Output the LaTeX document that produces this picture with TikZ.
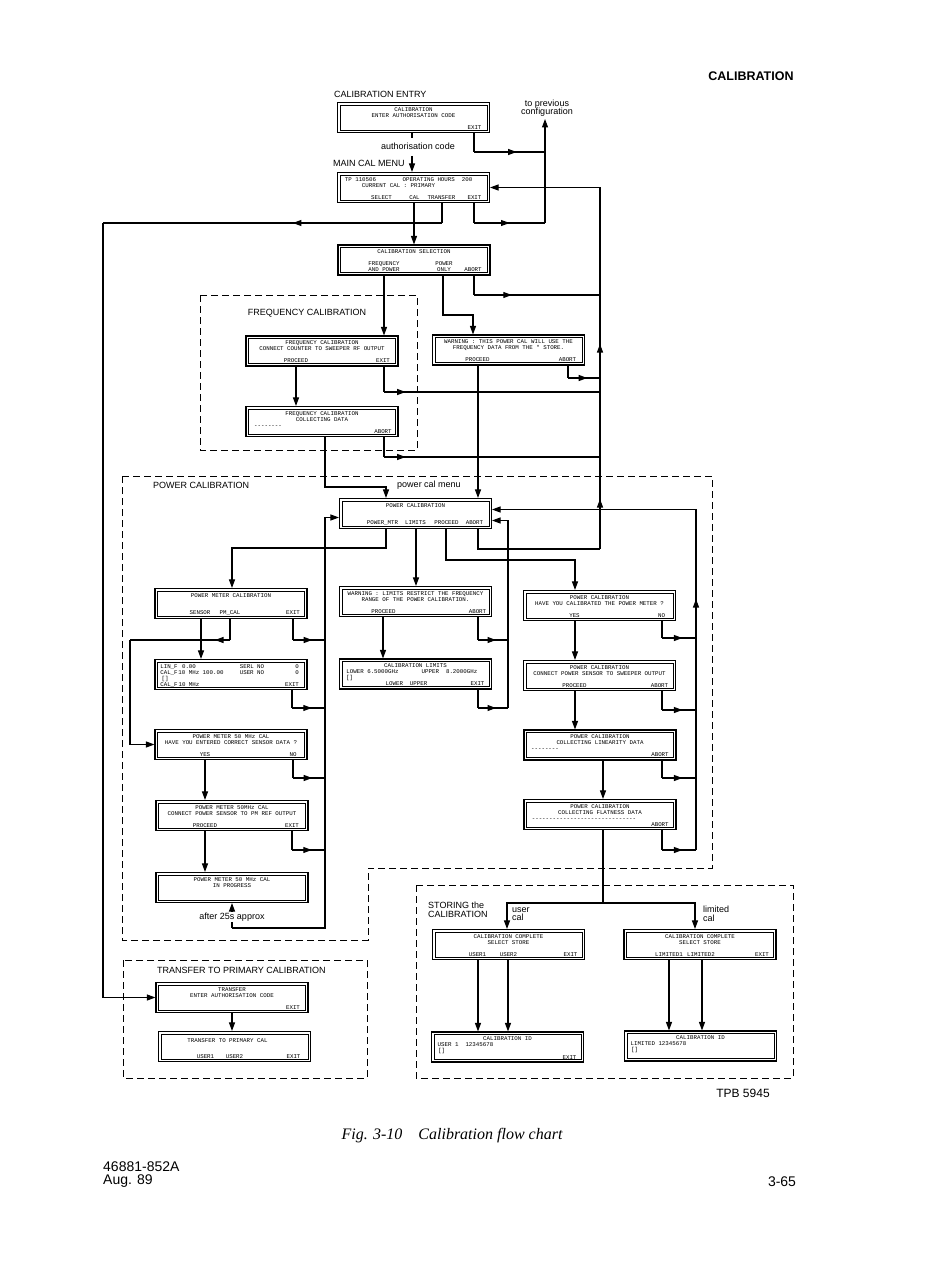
\documentclass[tikz,border=0pt]{standalone}
\usepackage{fontspec}
\setmainfont{Liberation Sans}
\newfontfamily\lcdfont{Liberation Mono}
\newfontfamily\capfont{Liberation Serif}
\usetikzlibrary{arrows.meta,decorations.markings}
\newcommand{\pc}[2]{\makebox[0pt][c]{\hspace{#1pt}\hspace{#1pt}#2}}
\newcommand{\scr}[2]{\parbox[c][24pt][t]{144pt}{\lcdfont\fontsize{5.8}{6.0}\selectfont\centering\vspace*{1.8pt}#1\par\vfill #2}}
\newcommand{\dsh}{-{}-{}-{}-{}-{}-{}-{}-}
\newcommand{\longdsh}{-{}-{}-{}-{}-{}-{}-{}-{}-{}-{}-{}-{}-{}-{}-{}-{}-{}-{}-{}-{}-{}-{}-{}-{}-{}-{}-{}-{}-{}-}
\begin{document}
\begin{tikzpicture}[x=1pt,y=-1pt,
  ln/.style={line width=1.05pt},
  arr/.style={ln,-{Triangle[length=8.5pt,width=6pt]}},
  marr/.style={ln,postaction={decorate},decoration={markings,mark=at position #1 with {\arrow{Triangle[length=8.5pt,width=6pt]}}}},
  marr/.default=0.5,
  lcd/.style={draw,line width=1.1pt,minimum width=152pt,minimum height=30pt,inner sep=0pt},
  inner/.style={draw,line width=0.6pt},
  dbox/.style={draw,line width=1pt,dash pattern=on 7pt off 4pt},
  lbl/.style={font=\fontsize{9}{8.5}\selectfont,inner sep=0pt}]
\useasboundingbox (0,0) rectangle (924,1268);

% headings and labels
\node[font=\bfseries\fontsize{12.5}{13}\selectfont,inner sep=0pt] (hdr) at (751,76) {CALIBRATION};
\node[lbl,anchor=west] (lentry) at (334,94) {CALIBRATION ENTRY};
\node[lbl,align=center] (lprev) at (547,108) {to previous\\configuration};
\node[lbl] (lauth) at (418,146) {authorisation code};
\node[lbl,anchor=west] (lmain) at (333,163) {MAIN CAL MENU};
\node[lbl] (lfreq) at (307,313) {FREQUENCY CALIBRATION};
\node[lbl,anchor=west] (lpow) at (153,485) {POWER CALIBRATION};
\node[lbl] (lpcm) at (429,485) {power cal menu};
\node[lbl,anchor=west] (ltr) at (157,970) {TRANSFER TO PRIMARY CALIBRATION};
\node[lbl,anchor=west,align=left] (lstore) at (428,910) {STORING the\\CALIBRATION};
\node[lbl,anchor=west,align=left] (luser) at (512,914) {user\\cal};
\node[lbl,anchor=west,align=left] (llim) at (703,914) {limited\\cal};
\node[font=\fontsize{12}{12}\selectfont,inner sep=0pt] (ltpb) at (743,1093) {TPB 5945};
\node[font=\capfont\itshape\fontsize{16}{16}\selectfont,inner sep=0pt] (lfig) at (452,1136) {Fig. 3-10\quad Calibration flow chart};
\node[font=\fontsize{14}{13}\selectfont,inner sep=0pt,anchor=west,align=left] (lpn) at (103,1175) {46881-852A\\Aug. 89};
\node[font=\fontsize{14}{14}\selectfont,inner sep=0pt] (lpg) at (782,1182) {3-65};

% dashed groups
\draw[dbox] (200,295) rectangle (417,450);
\draw[dbox] (122,476) -- (712,476) -- (712,868) -- (368,868) -- (368,940) -- (122,940) -- cycle;
\draw[dbox] (416,885) rectangle (793,1078);
\draw[dbox] (123,960) rectangle (367,1078);

% screens
\node[lcd] (E) at (413.5,117.5) {\scr{CALIBRATION\\ENTER AUTHORISATION CODE}{\pc{61}{EXIT}}};
\node[lcd] (M) at (413.5,187.5) {\scr{\pc{-53}{TP 110506}\pc{24}{OPERATING HOURS~~200}\\\pc{-15}{CURRENT CAL : PRIMARY}}{\pc{-32}{SELECT}\pc{1}{CAL}\pc{28}{TRANSFER}\pc{61}{EXIT}}};
\node[lcd] (C) at (414,260) {\scr{CALIBRATION SELECTION}{\pc{-30}{FREQUENCY}\pc{30}{POWER}\\\pc{-30}{AND POWER}\pc{30}{ONLY}\pc{59}{ABORT}}};
\node[lcd] (F1) at (322,351) {\scr{FREQUENCY CALIBRATION\\CONNECT COUNTER TO SWEEPER RF OUTPUT}{\pc{-26}{PROCEED}\pc{61}{EXIT}}};
\node[lcd] (F2) at (322,421.5) {\scr{FREQUENCY CALIBRATION\\COLLECTING DATA}{\pc{-54}{\dsh}\\\pc{61}{ABORT}}};
\node[lcd] (W) at (508.5,350) {\scr{WARNING : THIS POWER CAL WILL USE THE\\FREQUENCY DATA FROM THE * STORE.}{\pc{-31}{PROCEED}\pc{59}{ABORT}}};
\node[lcd] (P) at (415.5,513.5) {\scr{POWER CALIBRATION}{\pc{-33}{POWER\_MTR}\pc{0}{LIMITS}\pc{31}{PROCEED}\pc{59}{ABORT}}};
\node[lcd] (L1) at (231,603.5) {\scr{POWER METER CALIBRATION}{\pc{-31}{SENSOR}\pc{-1}{PM\_CAL}\pc{62}{EXIT}}};
\node[lcd] (L2) at (231,674.5) {\scr{\pc{-62}{LIN\_F}\pc{-42}{0.00}\pc{21}{SERL NO}\pc{66}{0}\\\pc{-62}{CAL\_F}\pc{-30}{10 MHz 100.00}\pc{21}{USER NO}\pc{66}{0}\\\pc{-66}{[]}}{\pc{-62}{CAL\_F}\pc{-42}{10 MHz}\pc{61}{EXIT}}};
\node[lcd] (L3) at (231,744.5) {\scr{POWER METER 50 MHz CAL\\HAVE YOU ENTERED CORRECT SENSOR DATA ?}{\pc{-26}{YES}\pc{62}{NO}}};
\node[lcd] (L4) at (232,815.5) {\scr{POWER METER 50MHz CAL\\CONNECT POWER SENSOR TO PM REF OUTPUT}{\pc{-27}{PROCEED}\pc{60}{EXIT}}};
\node[lcd] (L5) at (232,887.5) {\scr{POWER METER 50 MHz CAL\\IN PROGRESS}{}};
\node[lcd] (MW) at (415.5,601.5) {\scr{WARNING : LIMITS RESTRICT THE FREQUENCY\\RANGE OF THE POWER CALIBRATION.}{\pc{-32}{PROCEED}\pc{62}{ABORT}}};
\node[lcd] (CL) at (415.5,674) {\scr{CALIBRATION LIMITS\\\pc{-43}{LOWER~6.5000GHz}\pc{34}{UPPER~~8.2000GHz}\\\pc{-66}{[]}}{\pc{-9}{LOWER~~UPPER}\pc{62}{EXIT}}};
\node[lcd] (R1) at (599.5,605.5) {\scr{POWER CALIBRATION\\HAVE YOU CALIBRATED THE POWER METER ?}{\pc{-25}{YES}\pc{62}{NO}}};
\node[lcd] (R2) at (599.5,675.5) {\scr{POWER CALIBRATION\\CONNECT POWER SENSOR TO SWEEPER OUTPUT}{\pc{-25}{PROCEED}\pc{60}{ABORT}}};
\node[lcd] (R3) at (600,745) {\scr{POWER CALIBRATION\\COLLECTING LINEARITY DATA}{\pc{-55}{\dsh}\\\pc{60}{ABORT}}};
\node[lcd] (R4) at (600,814.5) {\scr{POWER CALIBRATION\\COLLECTING FLATNESS DATA}{\pc{-16}{\longdsh}\\\pc{60}{ABORT}}};
\node[lcd] (US) at (508.5,944.5) {\scr{CALIBRATION COMPLETE\\SELECT STORE}{\pc{-31}{USER1}\pc{0}{USER2}\pc{62}{EXIT}}};
\node[lcd] (LS) at (700,944.5) {\scr{CALIBRATION COMPLETE\\SELECT STORE}{\pc{-31}{LIMITED1}\pc{1}{LIMITED2}\pc{62}{EXIT}}};
\node[lcd] (UID) at (507.5,1047) {\scr{CALIBRATION ID\\\pc{-42}{USER 1~~12345678}\\\pc{-66}{[]}}{\pc{62}{EXIT}}};
\node[lcd] (LID) at (700.5,1046) {\scr{CALIBRATION ID\\\pc{-42}{LIMITED 12345678}\\\pc{-66}{[]}}{}};
\node[lcd] (T1) at (232,997.5) {\scr{TRANSFER\\ENTER AUTHORISATION CODE}{\pc{61}{EXIT}}};
\node[lcd] (T2) at (234.5,1046.5) {\scr{\mbox{}\\\pc{-7}{TRANSFER TO PRIMARY CAL}}{\pc{-29}{USER1}\pc{0}{USER2}\pc{59}{EXIT}}};

% inner frames of the screens
\foreach \n in {E,M,C,F1,F2,W,P,L1,L2,L3,L4,L5,MW,CL,R1,R2,R3,R4,US,LS,UID,LID,T1,T2}
  \draw[inner] ([shift={(3.2,3.2)}]\n.north west) rectangle ([shift={(-3.2,-3.2)}]\n.south east);

% top connectors
\draw[ln] (474,0 |- E.south) -- (474,152);
\draw[marr=0.6] (474,152) -- (545,152);
\draw[arr] (545,223) -- (545,119);
\draw[ln] (412,0 |- E.south) -- ++(0,5);
\draw[arr] (412,156) -- (412,0 |- M.north);
\draw[arr] (414,0 |- M.south) -- (414,0 |- C.north);
\draw[ln] (442,0 |- M.south) -- (442,223);
\draw[marr=0.44] (442,223) -- (103,223);
\draw[arr] (103,223) |- (T1.west);
\draw[ln] (474,0 |- M.south) -- (474,223);
\draw[marr=0.5] (474,223) -- (545,223);
\draw[arr] (600,549) |- (M.east);
\draw[arr] (600,360) -- (600,344);
\draw[arr] (600,515) -- (600,499);

% calibration selection / frequency
\draw[ln] (474,0 |- C.south) -- (474,295);
\draw[marr=0.3] (474,295) -- (600,295);
\draw[arr] (384,0 |- C.south) -- (384,0 |- F1.north);
\draw[arr] (443,0 |- C.south) |- (473,315) -- (473,0 |- W.north);
\draw[arr] (296,0 |- F1.south) -- (296,0 |- F2.north);
\draw[ln] (384,0 |- F1.south) -- (384,392);
\draw[marr=0.1] (384,392) -- (600,392);
\draw[ln] (384,0 |- F2.south) -- (384,457);
\draw[marr=0.1] (384,457) -- (600,457);
\draw[ln] (568,0 |- W.south) -- (568,378);
\draw[marr=0.6] (568,378) -- (600,378);
\draw[arr] (325,0 |- F2.south) |- (386,487) -- (386,0 |- P.north);
\draw[arr] (478,0 |- W.south) -- (478,0 |- P.north);

% power cal menu outputs
\draw[ln] (478,0 |- P.south) |- (600,549);
\draw[arr] (446,0 |- P.south) |- (575,560) -- (575,0 |- R1.north);
\draw[arr] (416,0 |- P.south) -- (416,0 |- MW.north);
\draw[arr] (386,0 |- P.south) |- (232,548) -- (232,0 |- L1.north);

% left column
\draw[arr] (201,0 |- L1.south) -- (201,0 |- L2.north);
\draw[ln] (230,0 |- L1.south) -- (230,640);
\draw[marr=0.15] (230,640) -- (130,640);
\draw[arr] (130,640) |- (L3.west);
\draw[ln] (293,0 |- L1.south) -- (293,640);
\draw[marr=0.6] (293,640) -- (325,640);
\draw[ln] (292,0 |- L2.south) -- (292,708);
\draw[marr=0.6] (292,708) -- (325,708);
\draw[arr] (205,0 |- L3.south) -- (205,0 |- L4.north);
\draw[ln] (293,0 |- L3.south) -- (293,778);
\draw[marr=0.6] (293,778) -- (325,778);
\draw[arr] (205,0 |- L4.south) -- (205,0 |- L5.north);
\draw[ln] (292,0 |- L4.south) -- (292,850);
\draw[marr=0.6] (292,850) -- (325,850);
\draw[arr] (232,928) -- (325,928) |- ([yshift=-4pt]P.west);
\draw[arr] (232,928) -- (232,0 |- L5.south);
\node[lbl,fill=white,inner sep=1pt] (aft) at (232,917) {after 25s approx};

% middle column
\draw[arr] (383,0 |- MW.south) -- (383,0 |- CL.north);
\draw[ln] (478,0 |- MW.south) -- (478,640);
\draw[marr=0.6] (478,640) -- (508,640);
\draw[ln] (478,0 |- CL.south) -- (478,708);
\draw[marr=0.6] (478,708) -- (508,708);
\draw[arr] (508,708) |- ([yshift=-7pt]P.east);

% right column
\draw[arr] (575,0 |- R1.south) -- (575,0 |- R2.north);
\draw[ln] (662,0 |- R1.south) -- (662,638);
\draw[marr=0.6] (662,638) -- (696,638);
\draw[arr] (575,0 |- R2.south) -- (575,0 |- R3.north);
\draw[ln] (662,0 |- R2.south) -- (662,710);
\draw[marr=0.6] (662,710) -- (696,710);
\draw[arr] (603,0 |- R3.south) -- (603,0 |- R4.north);
\draw[ln] (662,0 |- R3.south) -- (662,778);
\draw[marr=0.6] (662,778) -- (696,778);
\draw[ln] (662,0 |- R4.south) -- (662,850);
\draw[marr=0.6] (662,850) -- (696,850);
\draw[arr] (696,850) |- ([yshift=4pt]P.east);
\draw[arr] (696,615) -- (696,599);

% storing
\draw[ln] (603,0 |- R4.south) -- (603,903);
\draw[arr] (603,903) -| (507,0 |- US.north);
\draw[arr] (603,903) -| (695,0 |- LS.north);
\draw[arr] (478,0 |- US.south) -- (478,0 |- UID.north);
\draw[arr] (508,0 |- US.south) -- (508,0 |- UID.north);
\draw[arr] (669,0 |- LS.south) -- (669,0 |- LID.north);
\draw[arr] (702,0 |- LS.south) -- (702,0 |- LID.north);

% transfer
\draw[arr] (232,0 |- T1.south) -- (232,0 |- T2.north);
\end{tikzpicture}
\end{document}
